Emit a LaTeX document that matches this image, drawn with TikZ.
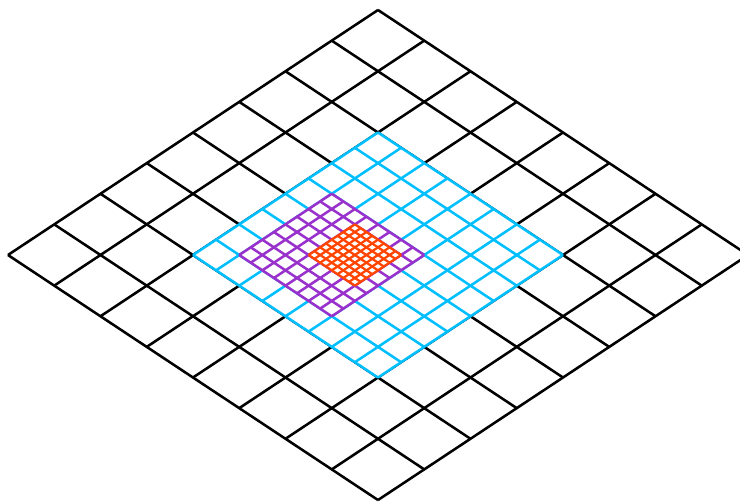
\documentclass[tikz,border=0pt]{standalone}
\usepackage{tikz}
\definecolor{sky}{HTML}{00BFFF}
\definecolor{orchid}{HTML}{9932CC}
\definecolor{flame}{HTML}{FF4500}

\begin{document}
\begin{tikzpicture}[x={(34.69pt,-22.97pt)},y={(-34.69pt,-22.97pt)},line width=1.9pt,line join=miter]
\useasboundingbox (-283.5pt,-369pt) rectangle (271.5pt,7.5pt);
% coarse level, 8 x 8 cells
\foreach \i in {0,...,8} {\draw (\i,0)--(\i,8); \draw (0,\i)--(8,\i);}
% blue level, half cells
\fill[white] (2,2)--(6,2)--(6,6)--(2,6)--cycle;
\foreach \i in {0,...,8} {\draw[sky] ({2+\i/2},2)--({2+\i/2},6); \draw[sky] (2,{2+\i/2})--(6,{2+\i/2});}
% purple level, quarter cells
\fill[white] (2.5,3.5)--(4.5,3.5)--(4.5,5.5)--(2.5,5.5)--cycle;
\foreach \i in {0,...,8} {\draw[orchid] ({2.5+\i/4},3.5)--({2.5+\i/4},5.5); \draw[orchid] (2.5,{3.5+\i/4})--(4.5,{3.5+\i/4});}
% orange level, eighth cells
\fill[white] (3.25,3.75)--(4.25,3.75)--(4.25,4.75)--(3.25,4.75)--cycle;
\foreach \i in {0,...,8} {\draw[flame,line width=1.7pt] ({3.25+\i/8},3.75)--({3.25+\i/8},4.75); \draw[flame,line width=1.7pt] (3.25,{3.75+\i/8})--(4.25,{3.75+\i/8});}
\end{tikzpicture}
\end{document}
